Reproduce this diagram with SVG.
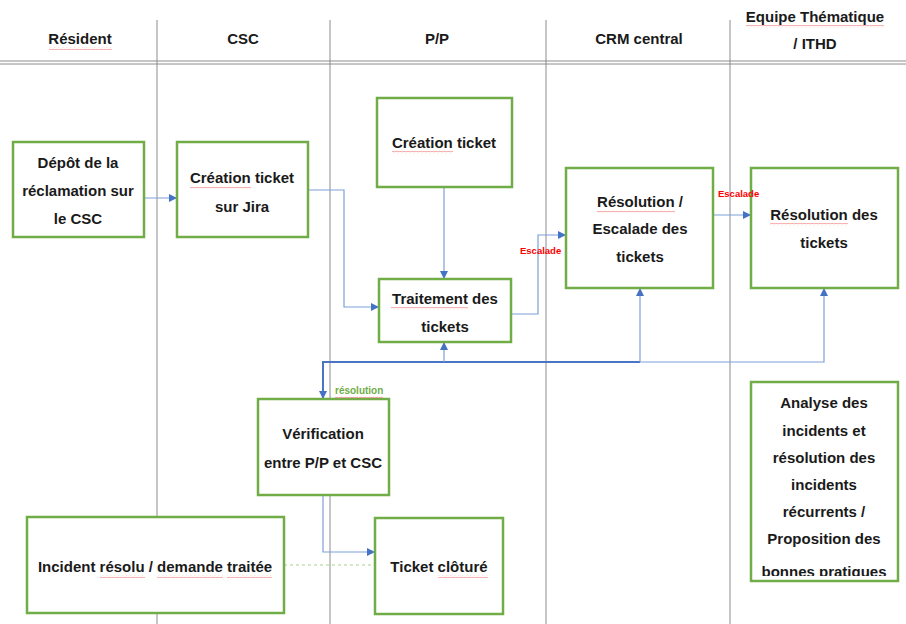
<svg xmlns="http://www.w3.org/2000/svg" width="906" height="624" viewBox="0 0 906 624">
<style>
.lane{stroke:#8c8c8c;stroke-width:1;fill:none}
.box{fill:#fff;stroke:#70ad47;stroke-width:2.5}
.t{font-family:"Liberation Sans",Arial,sans-serif;font-weight:bold;font-size:15px;fill:#1a1a1a;text-anchor:middle}
.h{font-family:"Liberation Sans",Arial,sans-serif;font-weight:bold;font-size:15px;fill:#1a1a1a;text-anchor:middle}
.lbl{font-family:"Liberation Sans",Arial,sans-serif;font-weight:bold;font-size:9.5px;fill:#ff0000}
.lblg{font-family:"Liberation Sans",Arial,sans-serif;font-weight:bold;font-size:10px;fill:#70ad47}
.c{fill:none;stroke:#7f9fd8;stroke-width:1.2}
.ct{fill:none;stroke:#4a74c4;stroke-width:2}
.dash{fill:none;stroke:#a9d18e;stroke-width:1.2;stroke-dasharray:3 3}
.sq{fill:url(#wave)}
</style>
<defs>
<marker id="ah" viewBox="0 0 8 8" refX="8" refY="4" markerWidth="8" markerHeight="8" markerUnits="userSpaceOnUse" orient="auto">
<path d="M0,0 L8,4 L0,8 z" fill="#4472c4"/>
</marker>
<pattern id="wave" width="4" height="3" patternUnits="userSpaceOnUse">
<path d="M0,2.2 Q1,0.2 2,1.5 T4,1.2" fill="none" stroke="#e66" stroke-width="0.6"/>
</pattern>
<clipPath id="clipA"><rect x="751" y="382" width="147" height="194"/></clipPath>
</defs>
<rect width="906" height="624" fill="#fff"/>
<g id="lanes">
<line class="lane" x1="157" y1="20" x2="157" y2="624"/>
<line class="lane" x1="330" y1="20" x2="330" y2="624"/>
<line class="lane" x1="546" y1="20" x2="546" y2="624"/>
<line class="lane" x1="730" y1="20" x2="730" y2="624"/>
<line class="lane" x1="0" y1="61" x2="906" y2="61"/>
<line class="lane" x1="0" y1="64" x2="906" y2="64"/>
</g>
<g id="headers">
<text class="h" x="80" y="44">Résident</text>
<text class="h" x="243" y="44">CSC</text>
<text class="h" x="437" y="44">P/P</text>
<text class="h" x="639" y="44">CRM central</text>
<text class="h" x="815" y="22">Equipe Thématique</text>
<text class="h" x="815" y="49">/ ITHD</text>
<rect class="sq" x="49" y="47" width="63" height="3"/>
<rect class="sq" x="746" y="25" width="138" height="3"/>
</g>
<g id="connectors">
<path class="c" d="M144,198 H177" marker-end="url(#ah)"/>
<path class="c" d="M308,190 H344 V307 H379" marker-end="url(#ah)"/>
<path class="c" d="M444,187 V279" marker-end="url(#ah)"/>
<path class="c" d="M511,314 H538 V235 H566" marker-end="url(#ah)"/>
<path class="c" d="M713,215 H751" marker-end="url(#ah)"/>
<path class="ct" d="M640,362 H323 V399" marker-end="url(#ah)"/>
<path class="c" d="M444,362 V342" marker-end="url(#ah)"/>
<path class="c" d="M640,362 V288" marker-end="url(#ah)"/>
<path class="c" d="M640,362 H824 V288" marker-end="url(#ah)"/>
<path class="c" d="M323,495 V552 H375" marker-end="url(#ah)"/>
<path class="dash" d="M284,565 H375"/>
</g>
<g id="n-depot">
<rect class="box" x="13" y="142" width="131" height="95"/>
<text class="t" x="78" y="168">Dépôt de la</text>
<text class="t" x="78" y="196">réclamation sur</text>
<text class="t" x="78" y="224">le CSC</text>
</g>
<g id="n-jira">
<rect class="box" x="177" y="142" width="131" height="95"/>
<text class="t" x="242" y="183">Création ticket</text>
<text class="t" x="242" y="212">sur Jira</text>
<rect class="sq" x="190" y="186" width="61" height="3"/>
</g>
<g id="n-creation">
<rect class="box" x="377" y="98" width="135" height="89"/>
<text class="t" x="444" y="148">Création ticket</text>
<rect class="sq" x="392" y="151" width="61" height="3"/>
</g>
<g id="n-traitement">
<rect class="box" x="379" y="279" width="132" height="63"/>
<text class="t" x="445" y="304">Traitement des</text>
<text class="t" x="445" y="332">tickets</text>
<rect class="sq" x="391" y="307" width="77" height="3"/>
</g>
<g id="n-crm">
<rect class="box" x="566" y="168" width="147" height="120"/>
<text class="t" x="640" y="207">Résolution /</text>
<text class="t" x="640" y="234">Escalade des</text>
<text class="t" x="640" y="262">tickets</text>
<rect class="sq" x="597" y="210" width="78" height="3"/>
</g>
<g id="n-ithd">
<rect class="box" x="751" y="168" width="147" height="120"/>
<text class="t" x="824" y="220">Résolution des</text>
<text class="t" x="824" y="248">tickets</text>
<rect class="sq" x="770" y="223" width="78" height="3"/>
</g>
<g id="n-verification">
<rect class="box" x="258" y="399" width="131" height="96"/>
<text class="t" x="323" y="439">Vérification</text>
<text class="t" x="323" y="468">entre P/P et CSC</text>
</g>
<g id="n-incident">
<rect class="box" x="27" y="517" width="257" height="96"/>
<text class="t" x="155" y="572">Incident résolu / demande traitée</text>
<rect class="sq" x="100" y="575" width="45" height="3"/>
<rect class="sq" x="157" y="575" width="66" height="3"/>
<rect class="sq" x="227" y="575" width="45" height="3"/>
</g>
<g id="n-cloture">
<rect class="box" x="375" y="518" width="128" height="96"/>
<text class="t" x="439" y="572">Ticket clôturé</text>
<rect class="sq" x="438" y="575" width="50" height="3"/>
</g>
<g id="n-analyse">
<rect class="box" x="751" y="382" width="147" height="199"/>
<g clip-path="url(#clipA)">
<text class="t" x="824" y="408">Analyse des</text>
<text class="t" x="824" y="436">incidents et</text>
<text class="t" x="824" y="463">résolution des</text>
<text class="t" x="824" y="490">incidents</text>
<text class="t" x="824" y="517">récurrents /</text>
<text class="t" x="824" y="544">Proposition des</text>
<text class="t" x="824" y="577">bonnes pratiques</text>
</g>
</g>
<g id="connector-labels">
<text class="lbl" x="520" y="254">Escalade</text>
<text class="lbl" x="718" y="197">Escalade</text>
<text class="lblg" x="335" y="394">résolution</text>
<rect class="sq" x="335" y="396" width="48" height="3"/>
</g>
</svg>
